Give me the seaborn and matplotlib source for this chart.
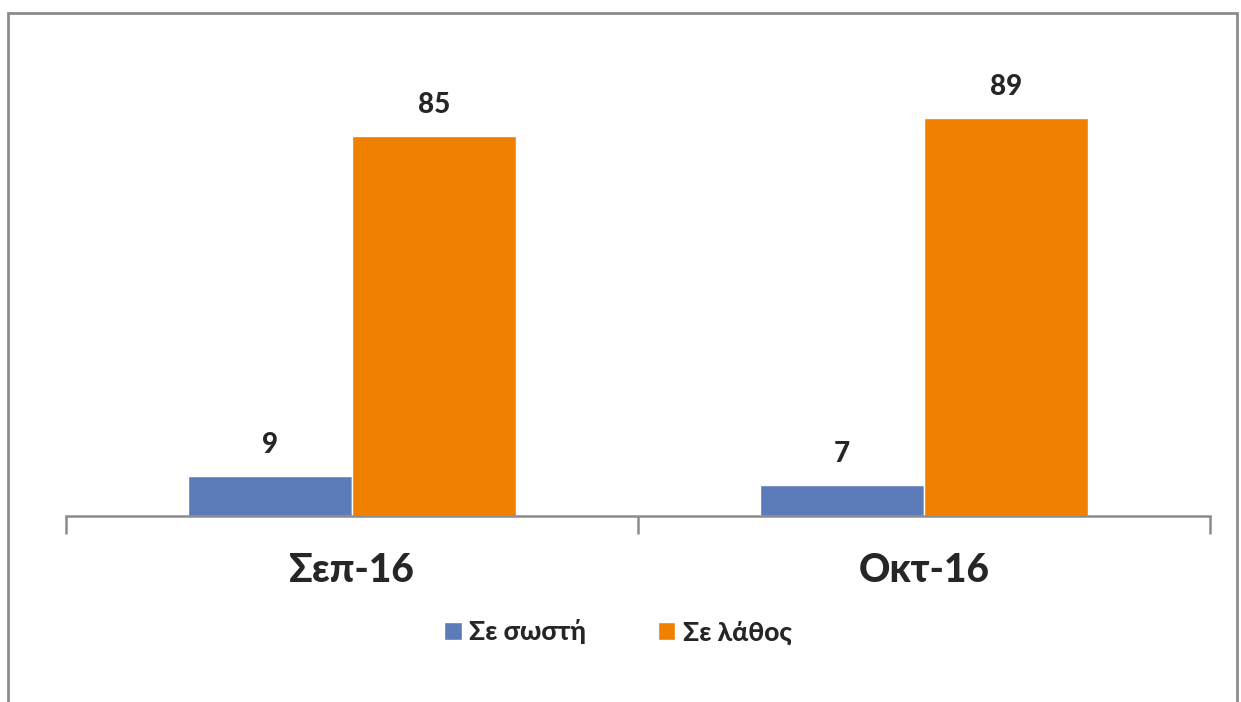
import pandas as pd
import matplotlib.pyplot as plt
import seaborn as sns
from matplotlib.patches import Rectangle, Patch

# data
months = ["Σεπ-16", "Οκτ-16"]
series = ["Σε σωστή", "Σε λάθος"]
correct = [9, 7]
wrong = [85, 89]
colors = ["#5B7BB9", "#F08000"]

df = pd.DataFrame({
    "month": months * 2,
    "series": [series[0]] * 2 + [series[1]] * 2,
    "value": correct + wrong,
})

sns.set_style("white")
plt.rcParams['font.family'] = ['Lato', 'DejaVu Sans']

fig = plt.figure(figsize=(12.41, 7.02), dpi=100)
ax = fig.add_axes([66 / 1241, 1 - 516 / 702, 1144 / 1241, 447 / 702])

sns.barplot(data=df, x="month", y="value", hue="series", palette=colors,
            width=0.573, saturation=1, ax=ax, legend=False)

ax.set_ylim(0, 100)
ax.set_xlim(-0.5, 1.5)

# value labels
for c in ax.containers:
    ax.bar_label(c, fontsize=20, fontweight="black", padding=13)

# axes styling
for s in ["top", "right", "left"]:
    ax.spines[s].set_visible(False)
ax.spines["bottom"].set_color("#8C8C8C")
ax.spines["bottom"].set_linewidth(1.8)
ax.set_yticks([])
ax.set_xlabel("")
ax.set_ylabel("")
ax.set_xticks([0, 1])
ax.set_xticklabels(months, fontsize=28, fontweight="black")
ax.tick_params(axis="x", which="major", length=0, pad=26)
ax.set_xticks([-0.5, 0.5, 1.5], minor=True)
ax.tick_params(axis="x", which="minor", bottom=True, direction="out",
               length=13, width=1.8, color="#8C8C8C")

# legend
handles = [Patch(facecolor=col, label=lab) for col, lab in zip(colors, series)]
fig.legend(handles=handles, loc="center", bbox_to_anchor=(618 / 1241, 1 - 632 / 702),
           ncol=2, frameon=False, prop={"size": 19, "weight": "black"},
           handlelength=0.65, handleheight=0.65, handletextpad=0.3, columnspacing=2.7)

# outer chart border
fig.add_artist(Rectangle((8 / 1241, -0.1), 1229 / 1241, 1.1 - 13 / 702,
                         transform=fig.transFigure, fill=False,
                         edgecolor="#8C8C8C", linewidth=2))

fig.savefig("out.png", dpi=100)
